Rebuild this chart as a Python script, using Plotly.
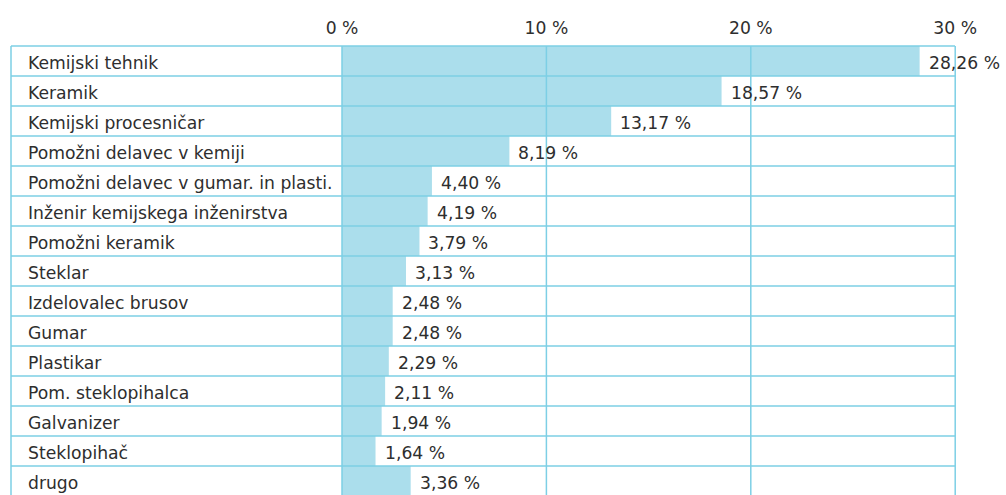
import plotly.graph_objects as go

# Occupations and their share (%)
categories = [
    "Kemijski tehnik",
    "Keramik",
    "Kemijski procesničar",
    "Pomožni delavec v kemiji",
    "Pomožni delavec v gumar. in plasti.",
    "Inženir kemijskega inženirstva",
    "Pomožni keramik",
    "Steklar",
    "Izdelovalec brusov",
    "Gumar",
    "Plastikar",
    "Pom. steklopihalca",
    "Galvanizer",
    "Steklopihač",
    "drugo",
]
shares = [28.26, 18.57, 13.17, 8.19, 4.40, 4.19, 3.79, 3.13, 2.48, 2.48, 2.29, 2.11, 1.94, 1.64, 3.36]

tick_values = [0, 10, 20, 30]
tick_labels = ["0 %", "10 %", "20 %", "30 %"]

BAR = "#abdeec"
LINE = "#7dcfe5"
TEXT = "#2e2e2e"
FONT = "DejaVu Sans"
FS = 17.2

W, H = 1006, 495
ML, MR, MT, MB = 11, 49, 44, 0
ZERO_PX = 342.0
PX_PER_UNIT = 20.44
ROW_PX = 30.0

x_min = (ML - ZERO_PX) / PX_PER_UNIT
x_max = (W - MR - ZERO_PX) / PX_PER_UNIT
y_top = -0.5 - 2 / ROW_PX
y_bottom = y_top + (H - MT - MB) / ROW_PX


def fmt(v):
    return f"{v:.2f}".replace(".", ",") + " %"


idx = list(range(len(categories)))

fig = go.Figure(
    go.Bar(
        x=shares,
        y=idx,
        orientation="h",
        width=1.0,
        marker=dict(color=BAR, line=dict(width=0)),
        hoverinfo="skip",
    )
)

shapes = []
# row separators of the table
for i in range(len(categories) + 1):
    shapes.append(dict(type="line", xref="paper", x0=0, x1=(W - MR - ML - 2) / (W - MR - ML),
                       yref="y", y0=i - 0.5, y1=i - 0.5,
                       line=dict(color=LINE, width=1.5), layer="above"))
# left border of the label column
shapes.append(dict(type="line", xref="paper", x0=0, x1=0, yref="y", y0=-0.5, y1=len(categories) - 0.5,
                   line=dict(color=LINE, width=1.5), layer="above"))
# value grid lines
for t in tick_values:
    shapes.append(dict(type="line", xref="x", x0=t, x1=t, yref="y", y0=-0.5, y1=len(categories) - 0.5,
                       line=dict(color=LINE, width=1.5), layer="above"))

annotations = []
for i, (c, v) in enumerate(zip(categories, shares)):
    annotations.append(dict(text=c, xref="paper", x=0, xshift=15, yshift=-2, xanchor="left",
                            yref="y", y=i, yanchor="middle", showarrow=False,
                            font=dict(family=FONT, size=FS, color=TEXT)))
    annotations.append(dict(text=fmt(v), xref="x", x=v, xshift=7, yshift=-2, xanchor="left",
                            yref="y", y=i, yanchor="middle", showarrow=False,
                            font=dict(family=FONT, size=FS, color=TEXT)))

fig.update_layout(
    width=W,
    height=H,
    margin=dict(l=ML, r=MR, t=MT, b=MB),
    paper_bgcolor="white",
    plot_bgcolor="white",
    showlegend=False,
    shapes=shapes,
    annotations=annotations,
    xaxis=dict(
        side="top",
        range=[x_min, x_max],
        tickvals=tick_values,
        ticktext=tick_labels,
        showgrid=False,
        zeroline=False,
        showline=False,
        ticks="outside",
        ticklen=2,
        tickcolor="rgba(0,0,0,0)",
        tickfont=dict(family=FONT, size=FS, color=TEXT),
        fixedrange=True,
    ),
    yaxis=dict(
        range=[y_bottom, y_top],
        showticklabels=False,
        showgrid=False,
        zeroline=False,
        showline=False,
        ticks="",
        fixedrange=True,
    ),
)

fig.write_html("out.html", config={"displayModeBar": False})
